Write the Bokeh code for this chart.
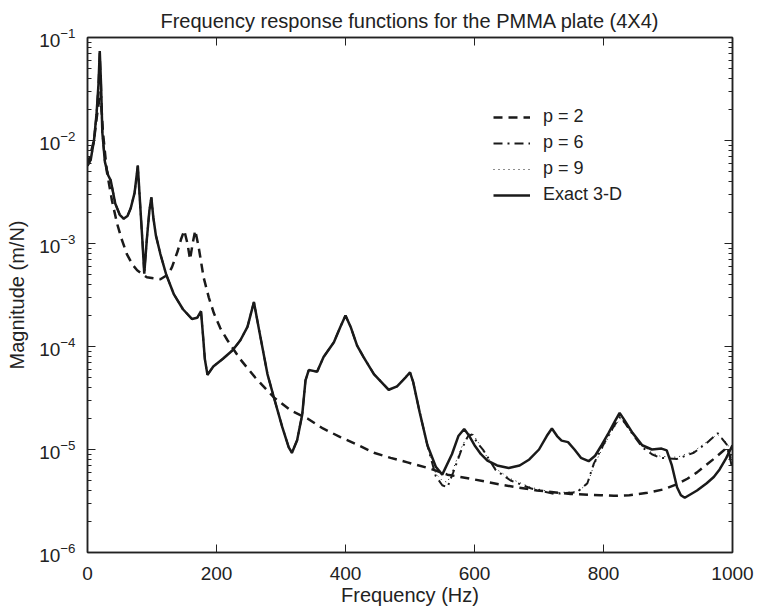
from bokeh.plotting import figure
from bokeh.models import (FixedTicker, LinearAxis, LogAxis, Legend, LegendItem,
                          Range1d)
from bokeh.embed import file_html
from bokeh.resources import INLINE

# ---------------- data ----------------
exact_f = [0, 5, 10, 14, 17, 19, 21, 23, 27, 32, 36, 43, 50, 56, 62, 67, 73, 78,
           82, 85, 88, 92, 96, 99, 102, 106, 113, 122, 134, 148, 162, 170, 176,
           179, 182, 186, 195, 210, 225, 237, 248, 258, 266, 279, 289, 302, 312,
           317, 325, 333, 338, 343, 356, 366, 382, 392, 400, 408, 418, 428, 444,
           467, 480, 493, 500, 505, 515, 527, 540, 550, 565, 575, 584, 592, 600,
           610, 620, 635, 653, 670, 685, 700, 712, 720, 728, 735, 745, 755, 765,
           777, 787, 797, 808, 818, 825, 832, 845, 860, 875, 890, 898, 906, 914,
           920, 926, 945, 960, 971, 980, 990, 1000]
exact_v = [5.7e-3, 6.5e-3, 1.0e-2, 1.8e-2, 3.5e-2, 7.4e-2, 3.5e-2, 1.2e-2, 6.2e-3,
           4.6e-3, 4.1e-3, 2.45e-3, 1.9e-3, 1.74e-3, 1.85e-3, 2.2e-3, 3.1e-3, 5.7e-3,
           2.2e-3, 1.1e-3, 5.1e-4, 1.1e-3, 2.1e-3, 2.8e-3, 1.8e-3, 1.2e-3, 7.9e-4,
           5.0e-4, 3.2e-4, 2.3e-4, 1.85e-4, 1.9e-4, 2.2e-4, 1.3e-4, 7.5e-5, 5.3e-5,
           6.4e-5, 7.6e-5, 9.2e-5, 1.15e-4, 1.55e-4, 2.7e-4, 1.45e-4, 5.4e-5, 3.2e-5,
           1.65e-5, 1.05e-5, 9.3e-6, 1.23e-5, 2.2e-5, 4.7e-5, 5.9e-5, 5.7e-5, 7.9e-5,
           1.1e-4, 1.55e-4, 2.0e-4, 1.55e-4, 1.02e-4, 7.9e-5, 5.4e-5, 3.8e-5, 4.1e-5,
           5.0e-5, 5.6e-5, 4.5e-5, 2.3e-5, 1.1e-5, 6.8e-6, 5.7e-6, 9.0e-6, 1.35e-5,
           1.58e-5, 1.35e-5, 1.1e-5, 9.0e-6, 7.8e-6, 7.0e-6, 6.6e-6, 7.0e-6, 8.0e-6,
           1.0e-5, 1.35e-5, 1.6e-5, 1.35e-5, 1.22e-5, 1.18e-5, 1.0e-5, 8.3e-6, 7.7e-6,
           8.7e-6, 1.1e-5, 1.45e-5, 1.9e-5, 2.27e-5, 1.95e-5, 1.45e-5, 1.1e-5, 1.0e-5,
           1.02e-5, 9.8e-6, 7.0e-6, 4.3e-6, 3.6e-6, 3.4e-6, 4.0e-6, 4.7e-6, 5.4e-6,
           6.4e-6, 8.2e-6, 1.1e-5]

p2_f = [0, 10, 15, 20, 24, 30, 38, 46, 53, 61, 70, 77, 92, 113, 125, 131, 140,
        145, 150, 155, 159, 163, 167, 172, 180, 188, 196, 206, 217, 237, 260, 289,
        315, 341, 365, 392, 420, 444, 470, 496, 532, 558, 594, 646, 697, 749, 795,
        816, 840, 868, 893, 914, 930, 945, 958, 971, 983, 992, 1000]
p2_v = [5.7e-3, 1.0e-2, 1.8e-2, 3.0e-2, 1.2e-2, 5.0e-3, 2.6e-3, 1.55e-3, 1.1e-3,
        7.9e-4, 6.2e-4, 5.5e-4, 4.7e-4, 4.5e-4, 5.0e-4, 5.9e-4, 8.5e-4, 1.1e-3,
        1.34e-3, 1.0e-3, 7.0e-4, 1.0e-3, 1.34e-3, 9.5e-4, 4.7e-4, 3.0e-4, 2.1e-4,
        1.5e-4, 1.15e-4, 7.5e-5, 5.0e-5, 3.2e-5, 2.4e-5, 2.0e-5, 1.6e-5, 1.32e-5,
        1.1e-5, 9.3e-6, 8.3e-6, 7.5e-6, 6.5e-6, 5.7e-6, 5.2e-6, 4.5e-6, 4.0e-6,
        3.7e-6, 3.6e-6, 3.55e-6, 3.6e-6, 3.8e-6, 4.1e-6, 4.6e-6, 5.2e-6, 6.0e-6,
        7.0e-6, 8.1e-6, 9.4e-6, 1.05e-5, 7.0e-6]

# p = 6 and p = 9 coincide with the exact curve below ~530 Hz
p6_hi_f = [540, 550, 558, 567, 580, 590, 596, 605, 614, 633, 656, 687, 723, 759,
           775, 785, 801, 814, 826, 842, 860, 875, 888, 914, 940, 961, 977, 992, 1000]
p6_hi_v = [5.5e-6, 4.5e-6, 4.3e-6, 6.0e-6, 1.0e-5, 1.35e-5, 1.4e-5, 1.15e-5, 9.8e-6,
           6.3e-6, 5.0e-6, 4.2e-6, 3.7e-6, 3.85e-6, 4.7e-6, 7.3e-6, 1.15e-5, 1.6e-5,
           2.1e-5, 1.5e-5, 1.05e-5, 9.0e-6, 8.3e-6, 8.1e-6, 9.3e-6, 1.17e-5, 1.44e-5,
           1.1e-5, 6.3e-6]
p9_hi_f = [540, 550, 558, 567, 580, 590, 596, 605, 614, 633, 656, 687, 723, 759,
           775, 785, 801, 814, 826, 842, 860, 875, 888, 914, 940, 961, 977, 992, 1000]
p9_hi_v = [5.8e-6, 5.0e-6, 4.8e-6, 6.5e-6, 1.05e-5, 1.4e-5, 1.45e-5, 1.2e-5, 9.5e-6,
           6.5e-6, 5.2e-6, 4.3e-6, 3.8e-6, 3.9e-6, 4.6e-6, 7.0e-6, 1.1e-5, 1.55e-5,
           2.0e-5, 1.5e-5, 1.1e-5, 9.3e-6, 8.6e-6, 8.4e-6, 9.6e-6, 1.2e-5, 1.4e-5,
           1.15e-5, 8.0e-6]

cut = 530
p6_f = [f for f in exact_f if f <= cut] + p6_hi_f
p6_v = [v for f, v in zip(exact_f, exact_v) if f <= cut] + p6_hi_v
p9_f = [f for f in exact_f if f <= cut] + p9_hi_f
p9_v = [v for f, v in zip(exact_f, exact_v) if f <= cut] + p9_hi_v

x_ticks = [0, 200, 400, 600, 800, 1000]
y_ticks = [1e-6, 1e-5, 1e-4, 1e-3, 1e-2, 1e-1]
y_minor = [k * d for d in [1e-6, 1e-5, 1e-4, 1e-3, 1e-2] for k in range(2, 10)]

labels = ["p = 2", "p = 6", "p = 9", "Exact 3-D"]

# ---------------- figure ----------------
FONT = "Liberation Sans"
INK = "#1a1a1a"
TXT = "#222222"

p = figure(width=757, height=611, output_backend="svg", toolbar_location=None,
           y_axis_type="log", x_range=Range1d(0, 1000), y_range=Range1d(1e-6, 1e-1),
           min_border_left=87, min_border_right=25, min_border_top=37,
           min_border_bottom=59,
           title="Frequency response functions for the PMMA plate (4X4)")
p.title.align = "center"
p.title.text_font = FONT
p.title.text_font_size = "20px"
p.title.text_font_style = "normal"
p.title.text_color = TXT
p.title.standoff = 11
p.grid.visible = False
p.outline_line_color = TXT
p.outline_line_width = 1.5
p.background_fill_color = "white"
p.border_fill_color = "white"

def style_axis(ax):
    ax.major_tick_in = 8
    ax.major_tick_out = 0
    ax.minor_tick_in = 4
    ax.minor_tick_out = 0
    ax.axis_line_color = TXT
    ax.axis_line_width = 1.5
    ax.major_tick_line_color = TXT
    ax.minor_tick_line_color = TXT
    ax.major_label_text_font = FONT
    ax.major_label_text_color = TXT
    ax.major_label_text_font_size = "19px"
    ax.axis_label_text_font = FONT
    ax.axis_label_text_font_style = "normal"
    ax.axis_label_text_color = TXT
    ax.axis_label_text_font_size = "20px"

xt = FixedTicker(ticks=x_ticks)
yt = FixedTicker(ticks=y_ticks, minor_ticks=y_minor)

xa = p.xaxis[0]
xa.ticker = xt
xa.axis_label = "Frequency (Hz)"
style_axis(xa)
xa.minor_tick_line_color = None
xa.major_label_standoff = 14
xa.axis_label_standoff = 1

ya = p.yaxis[0]
ya.ticker = yt
ya.axis_label = "Magnitude (m/N)"
style_axis(ya)
ya.major_label_standoff = 12
ya.axis_label_standoff = 8

top = LinearAxis(ticker=xt, major_label_overrides={t: "" for t in x_ticks})
style_axis(top)
top.minor_tick_line_color = None
top.major_label_standoff = 0
p.add_layout(top, "above")

right = LogAxis(ticker=yt, major_label_overrides={t: "" for t in y_ticks})
style_axis(right)
right.major_label_standoff = 0
p.add_layout(right, "right")

r2 = p.line(p2_f, p2_v, line_color=INK, line_width=2.5, line_dash="9 6")
r6 = p.line(p6_f, p6_v, line_color=INK, line_width=2, line_dash="9 5 2 5")
r9 = p.line(p9_f, p9_v, line_color=INK, line_width=1, line_dash="1 4")
re = p.line(exact_f, exact_v, line_color=INK, line_width=2.5)

legend = Legend(items=[LegendItem(label=labels[0], renderers=[r2]),
                       LegendItem(label=labels[1], renderers=[r6]),
                       LegendItem(label=labels[2], renderers=[r9]),
                       LegendItem(label=labels[3], renderers=[re])],
                location=(406, 347))
legend.border_line_color = None
legend.background_fill_alpha = 0
legend.padding = 0
legend.margin = 0
legend.spacing = 5
legend.glyph_width = 37
legend.glyph_height = 20
legend.label_height = 20
legend.label_standoff = 13
legend.label_text_font = FONT
legend.label_text_font_size = "18px"
legend.label_text_color = TXT
p.add_layout(legend, "center")

open("out.html", "w").write(file_html(p, INLINE))
